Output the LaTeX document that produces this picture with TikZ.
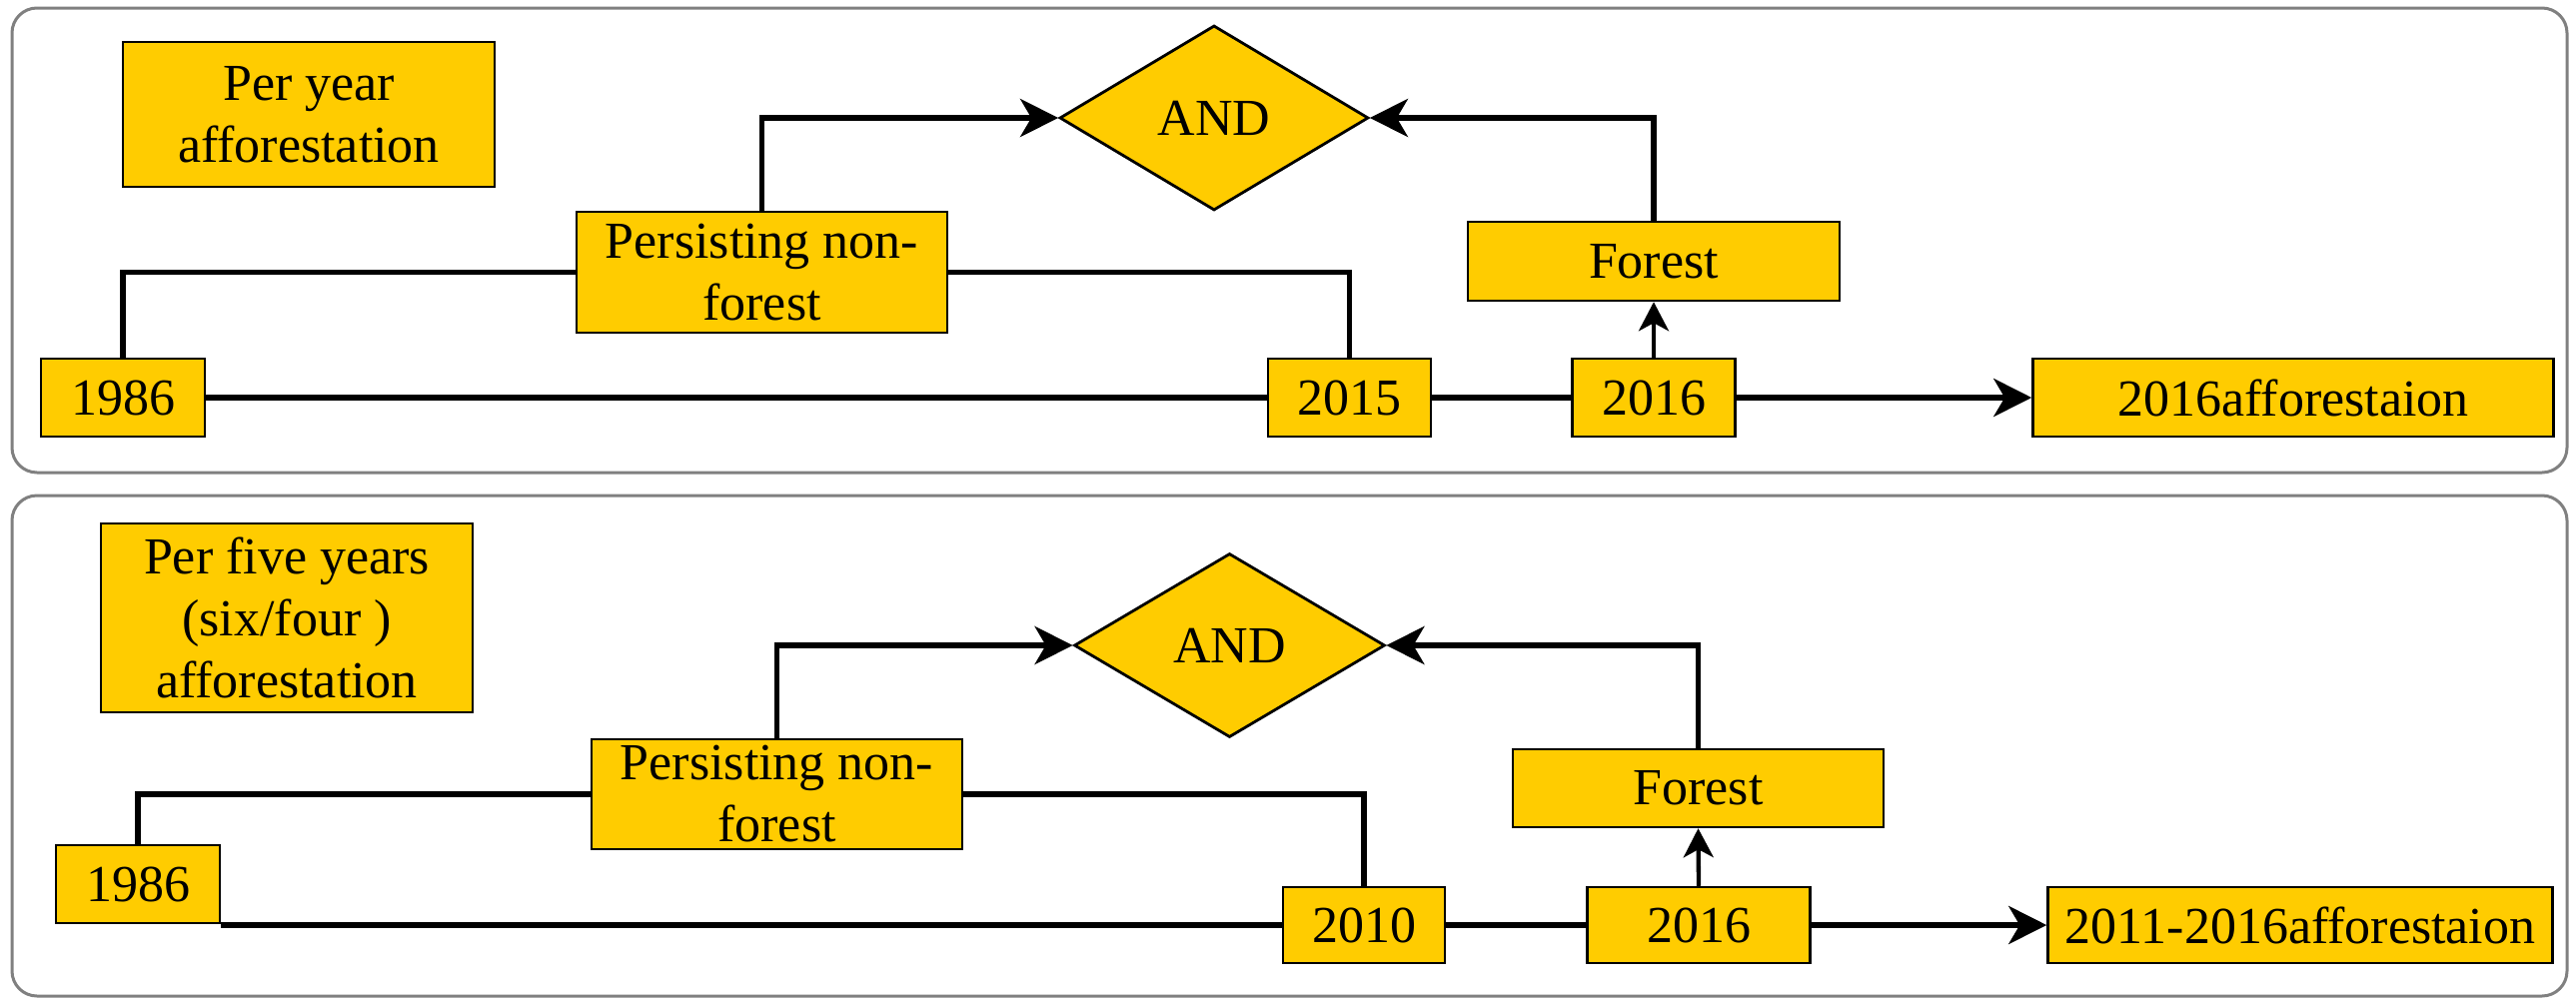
\documentclass[tikz,border=0pt]{standalone}
\usepackage{fontspec}
\setmainfont{Liberation Serif}
\usetikzlibrary{shapes.geometric,arrows.meta}
\definecolor{boxyellow}{RGB}{255,204,0}
\definecolor{panelgray}{RGB}{128,128,128}
\tikzset{
  box/.style={draw=black,line width=2.5pt,fill=boxyellow,inner sep=0pt,align=center,font=\fontsize{52}{62}\selectfont},
  gate/.style={diamond,draw=black,line width=2.8pt,fill=boxyellow,inner sep=0pt,font=\fontsize{52}{62}\selectfont},
  link/.style={line width=5.8pt},
  flow/.style={line width=5.8pt,-{Stealth[length=38pt,width=38pt,inset=11pt]}},
  rise/.style={line width=4.3pt,-{Stealth[length=29pt,width=30pt,inset=8pt]}},
  panel/.style={draw=panelgray,line width=3pt,rounded corners=25pt}
}

\begin{document}
\begin{tikzpicture}[x=1pt,y=-1pt]
\useasboundingbox (0,0) rectangle (2578,1007);
\foreach \t/\b in {8/473,496/997}
\draw[panel] (12,\t) rectangle (2569,\b);

\node (title1) at (309,114.5) [box,minimum width=372pt,minimum height=145pt] {Per year\\afforestation};
\node (and1) at (1215,118) [gate,minimum width=309pt,minimum height=185pt] {AND};
\node (pers1) at (762.5,272.5) [box,minimum width=371pt,minimum height=121pt] {Persisting non-\\forest};
\node (forest1) at (1655,261.5) [box,minimum width=372pt,minimum height=79pt] {Forest};
\node (y1986a) at (123,398) [box,minimum width=164pt,minimum height=78pt] {1986};
\node (y2015) at (1350.5,398) [box,minimum width=163pt,minimum height=78pt] {2015};
\node (y2016a) at (1655,398) [box,minimum width=163pt,minimum height=78pt] {2016};
\node (out1) at (2295,398) [box,minimum width=521pt,minimum height=78pt] {2016afforestaion};

\draw[link] (y1986a.north) |- (pers1.west);
\draw[link] (pers1.east) -| (y2015.north);
\draw[flow] (pers1.north) |- (and1.west);
\draw[flow] (forest1.north) |- (and1.east);
\draw[rise] (y2016a.north) -- (forest1.south);
\draw[link] (y1986a.east) -- (y2015.west);
\draw[link] (y2015.east) -- (y2016a.west);
\draw[flow] (y2016a.east) -- (out1.west);

\node (title2) at (287,618.5) [box,minimum width=372pt,minimum height=189pt] {Per five years\\(six/four )\\afforestation};
\node (and2) at (1230.5,646) [gate,minimum width=311pt,minimum height=184pt] {AND};
\node (pers2) at (777.5,795) [box,minimum width=371pt,minimum height=110pt] {Persisting non-\\forest};
\node (forest2) at (1699.5,789) [box,minimum width=371pt,minimum height=78pt] {Forest};
\node (y1986b) at (138,885) [box,minimum width=164pt,minimum height=78pt] {1986};
\node (y2010) at (1365,926) [box,minimum width=162pt,minimum height=76pt] {2010};
\node (y2016b) at (1700,926) [box,minimum width=223pt,minimum height=76pt] {2016};
\node (out2) at (2302,926) [box,minimum width=505pt,minimum height=76pt] {2011-2016afforestaion};

\draw[link] (y1986b.north) |- (pers2.west);
\draw[link] (pers2.east) -| (y2010.north);
\draw[flow] (pers2.north) |- (and2.west);
\draw[flow] (forest2.north) |- (and2.east);
\draw[rise] (y2016b.north) -- (forest2.south);
\draw[link] (y2010.west -| y1986b.east) -- (y2010.west);
\draw[link] (y2010.east) -- (y2016b.west);
\draw[flow] (y2016b.east) -- (out2.west);
\end{tikzpicture}
\end{document}
